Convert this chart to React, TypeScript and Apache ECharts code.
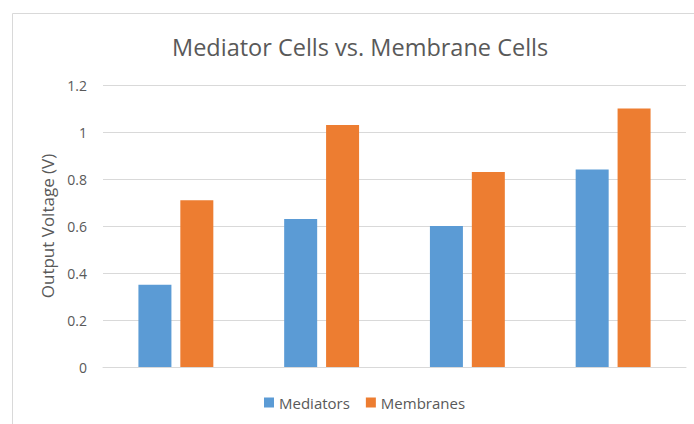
import React, { useEffect, useRef } from "react";
import * as echarts from "echarts";

const categories = ["1", "2", "3", "4"];
const mediators = [0.35, 0.63, 0.6, 0.84];
const membranes = [0.71, 1.03, 0.83, 1.1];
const titleText = "Mediator Cells vs. Membrane Cells";
const yAxisName = "Output Voltage (V)";

const FONT = "'Open Sans', 'Noto Sans', sans-serif";

export default function App() {
  const ref = useRef<HTMLDivElement>(null);
  useEffect(() => {
    if (!ref.current) return;
    const chart = echarts.init(ref.current, undefined, { renderer: "svg" });
    chart.setOption({
      animation: false,
      backgroundColor: "#ffffff",
      title: {
        text: titleText,
        left: 167,
        top: 30,
        textStyle: { fontFamily: FONT, fontSize: 23.5, fontWeight: "normal", color: "#595959" },
      },
      graphic: [
        {
          type: "rect",
          shape: { x: 12.5, y: 13.5, width: 700, height: 430 },
          style: { fill: "none", stroke: "#d9d9d9", lineWidth: 1 },
          silent: true,
          z: -1,
        },
      ],
      legend: {
        bottom: 9,
        left: 259,
        itemWidth: 10,
        itemHeight: 10,
        itemGap: 16,
        icon: "rect",
        textStyle: { fontFamily: FONT, fontSize: 15, color: "#595959" },
        data: ["Mediators", "Membranes"],
      },
      grid: { left: 103, right: 8, top: 85, bottom: 57 },
      xAxis: {
        type: "category",
        data: categories,
        axisLine: { lineStyle: { color: "#d9d9d9" } },
        axisTick: { show: false },
        axisLabel: { show: false },
      },
      yAxis: {
        type: "value",
        min: 0,
        max: 1.2,
        interval: 0.2,
        name: yAxisName,
        nameLocation: "middle",
        nameGap: 45,
        nameTextStyle: { fontFamily: FONT, fontSize: 17, color: "#595959" },
        axisLine: { show: false },
        axisTick: { show: false },
        axisLabel: {
          margin: 16,
          fontFamily: FONT,
          fontSize: 14,
          color: "#595959",
          formatter: (v: number) => String(parseFloat(v.toFixed(1))),
        },
        splitLine: { lineStyle: { color: "#d9d9d9" } },
      },
      series: [
        {
          name: "Mediators",
          type: "bar",
          data: mediators,
          barWidth: 33,
          barGap: "27%",
          itemStyle: { color: "#5B9BD5" },
        },
        {
          name: "Membranes",
          type: "bar",
          data: membranes,
          barWidth: 33,
          itemStyle: { color: "#ED7D31" },
        },
      ],
    });
    return () => chart.dispose();
  }, []);
  return (
    <div
      ref={ref}
      style={{ position: "absolute", left: 0, top: 0, width: 694, height: 424 }}
    />
  );
}
